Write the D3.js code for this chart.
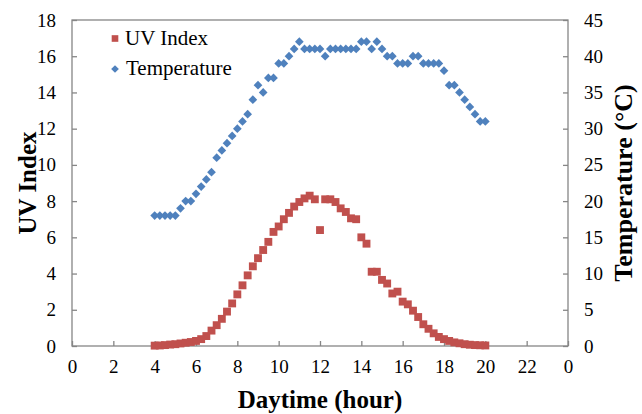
<!DOCTYPE html>
<html>
<head>
<meta charset="utf-8">
<script src="https://cdn.jsdelivr.net/npm/d3@7"></script>
<style>
  body { margin: 0; background: #fff; }
  text { font-family: "Liberation Serif", "Times New Roman", serif; fill: #000; }
</style>
</head>
<body>
<div id="chart"></div>
<script>
const width = 642, height = 414;
const margin = {top: 20, right: 74, bottom: 68, left: 72};

// readings every 15 minutes, 4:00 to 20:00
const times = d3.range(0, 65).map(i => 4 + i / 4);

const uvIndex = [
  0.02, 0.03, 0.05, 0.08, 0.10, 0.14, 0.18, 0.22,
  0.28, 0.38, 0.55, 0.85, 1.15, 1.50, 1.90, 2.35,
  2.85, 3.35, 3.90, 4.40, 4.85, 5.30, 5.75, 6.30,
  6.60, 7.00, 7.35, 7.70, 7.95, 8.15, 8.30, 8.10,
  6.40, 8.10, 8.10, 7.95, 7.60, 7.40, 7.05, 7.00,
  6.00, 5.65, 4.10, 4.10, 3.65, 3.45, 2.90, 3.00,
  2.45, 2.30, 1.95, 1.60, 1.20, 0.95, 0.70, 0.50,
  0.38, 0.28, 0.20, 0.15, 0.10, 0.07, 0.05, 0.04,
  0.03
];

const temperature = [
  18, 18, 18, 18, 18, 19, 20, 20,
  21, 22, 23, 24, 26, 27, 28, 29,
  30, 31, 32, 34, 36, 35, 37, 37,
  39, 39, 40, 41, 42, 41, 41, 41,
  41, 40, 41, 41, 41, 41, 41, 41,
  42, 42, 41, 42, 41, 40, 40, 39,
  39, 39, 40, 40, 39, 39, 39, 39,
  38, 36, 36, 35, 34, 33, 32, 31,
  31
];

const hourTicks = [0, 2, 4, 6, 8, 10, 12, 14, 16, 18, 20, 22, 24];
const hourLabels = ["0", "2", "4", "6", "8", "10", "12", "14", "16", "18", "20", "22", "0"];
const uvTicks = [0, 2, 4, 6, 8, 10, 12, 14, 16, 18];
const tempTicks = [0, 5, 10, 15, 20, 25, 30, 35, 40, 45];

const uvColor = "#c0504d", tempColor = "#4f81bd", axisColor = "#868686";

const svg = d3.select("#chart").append("svg")
    .attr("width", width)
    .attr("height", height);

const x = d3.scaleLinear().domain([0, 24]).range([margin.left, width - margin.right]);
const yUV = d3.scaleLinear().domain([0, 18]).range([height - margin.bottom, margin.top]);
const yT = d3.scaleLinear().domain([0, 45]).range([height - margin.bottom, margin.top]);

// plot frame
svg.append("rect")
    .attr("x", margin.left)
    .attr("y", margin.top)
    .attr("width", width - margin.left - margin.right)
    .attr("height", height - margin.top - margin.bottom)
    .attr("fill", "none")
    .attr("stroke", axisColor)
    .attr("stroke-width", 1.3);

function styleAxis(g) {
    g.select(".domain").remove();
    g.selectAll(".tick line").attr("stroke", axisColor).attr("stroke-width", 1.3);
    g.selectAll(".tick text").style("font-size", "19px").attr("fill", "#000");
}

svg.append("g")
    .attr("transform", "translate(0," + (height - margin.bottom) + ")")
    .call(d3.axisBottom(x).tickValues(hourTicks)
        .tickFormat((d, i) => hourLabels[i]).tickSizeInner(-5).tickPadding(14))
    .call(styleAxis);

svg.append("g")
    .attr("transform", "translate(" + margin.left + ",0)")
    .call(d3.axisLeft(yUV).tickValues(uvTicks).tickSizeInner(-5).tickPadding(16))
    .call(styleAxis);

svg.append("g")
    .attr("transform", "translate(" + (width - margin.right) + ",0)")
    .call(d3.axisRight(yT).tickValues(tempTicks).tickSizeInner(-5).tickPadding(16))
    .call(styleAxis);

// axis titles
svg.append("text")
    .attr("x", (margin.left + width - margin.right) / 2)
    .attr("y", 408)
    .attr("text-anchor", "middle")
    .style("font-size", "25px")
    .style("font-weight", "bold")
    .text("Daytime (hour)");

svg.append("text")
    .attr("transform", "translate(36," + (margin.top + height - margin.bottom) / 2 + ") rotate(-90)")
    .attr("text-anchor", "middle")
    .style("font-size", "25px")
    .style("font-weight", "bold")
    .text("UV Index");

svg.append("text")
    .attr("transform", "translate(632," + (margin.top + height - margin.bottom) / 2 + ") rotate(-90)")
    .attr("text-anchor", "middle")
    .style("font-size", "26px")
    .style("font-weight", "bold")
    .text("Temperature (°C)");

const square = d3.symbol().type(d3.symbolSquare).size(62);
const diamond = d3.symbol().type(d3.symbolSquare).size(38);

svg.append("g").selectAll("path")
    .data(times)
    .enter()
    .append("path")
    .attr("d", square)
    .attr("fill", uvColor)
    .attr("transform", (d, i) => "translate(" + x(d) + "," + yUV(uvIndex[i]) + ")");

svg.append("g").selectAll("path")
    .data(times)
    .enter()
    .append("path")
    .attr("d", diamond)
    .attr("fill", tempColor)
    .attr("transform", (d, i) => "translate(" + x(d) + "," + yT(temperature[i]) + ") rotate(45)");

// legend
const legend = svg.append("g");
legend.append("path").attr("d", d3.symbol().type(d3.symbolSquare).size(44)())
    .attr("fill", uvColor).attr("transform", "translate(115,38.5)");
legend.append("text").attr("x", 125).attr("y", 45).style("font-size", "21px").text("UV Index");
legend.append("path").attr("d", d3.symbol().type(d3.symbolSquare).size(30)())
    .attr("fill", tempColor).attr("transform", "translate(115,69) rotate(45)");
legend.append("text").attr("x", 126).attr("y", 75).style("font-size", "21px").text("Temperature");
</script>
</body>
</html>
